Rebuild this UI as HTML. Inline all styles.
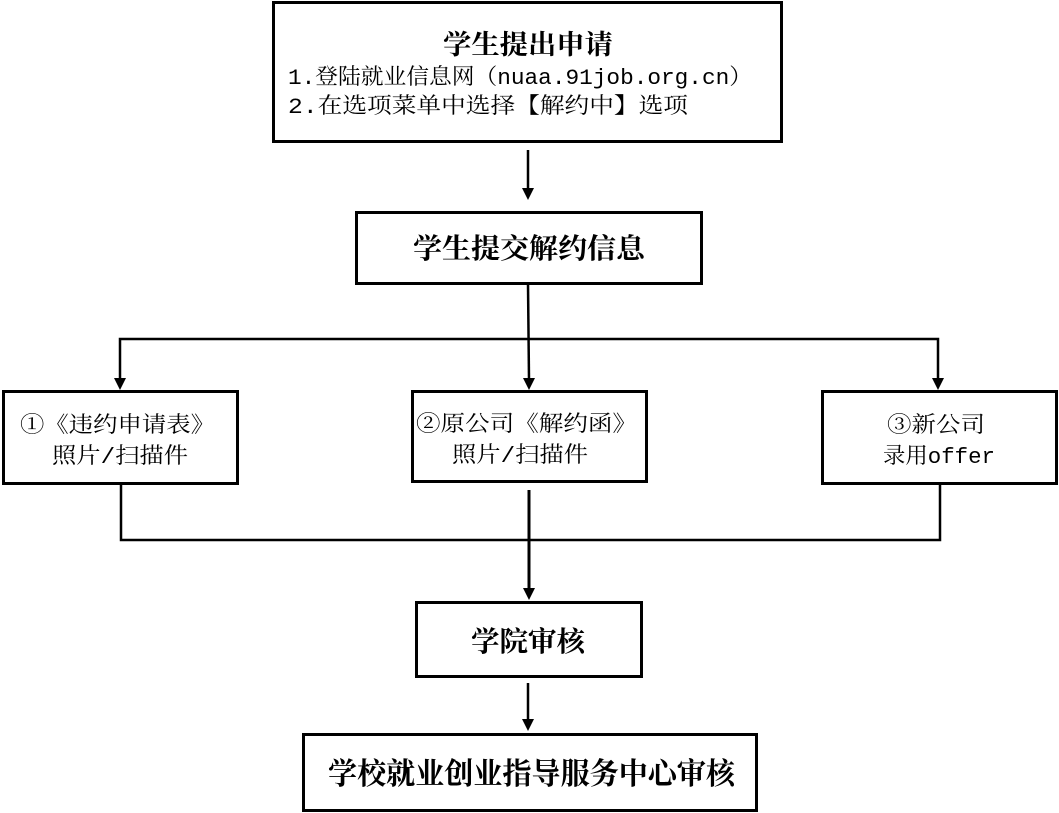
<!DOCTYPE html>
<html><head><meta charset="utf-8"><style>
html,body{margin:0;padding:0;background:#fff;}
svg{display:block;}
text{font-family:"Liberation Mono","Noto Serif CJK SC",serif;fill:#000;}
.b{font-weight:bold;}
</style></head><body>
<svg width="1059" height="813" viewBox="0 0 1059 813" xmlns="http://www.w3.org/2000/svg">
<g fill="none" stroke="#000" stroke-width="3">
<rect x="273.5" y="2.5" width="508" height="139"/>
<rect x="356.5" y="212.5" width="345" height="71"/>
<rect x="3.5" y="391.5" width="234" height="92"/>
<rect x="412.5" y="391.5" width="234" height="90"/>
<rect x="822.5" y="391.5" width="234" height="92"/>
<rect x="416.5" y="602.5" width="225" height="74"/>
<rect x="303.5" y="734.5" width="453" height="76"/>
<line x1="528" y1="150" x2="528" y2="190" stroke-width="2.5"/>
<line x1="528" y1="284" x2="529" y2="380" stroke-width="2.5"/>
<polyline points="120,380 120,339 938,339 938,380" stroke-width="2.5"/>
<polyline points="121,485 121,540 940,540 940,485" stroke-width="2.5"/>
<line x1="529" y1="490" x2="529" y2="590" stroke-width="3"/>
<line x1="528" y1="683" x2="528" y2="720" stroke-width="2.5"/>
</g>
<g fill="#000">
<path d="M522,188 L534,188 L528,200 Z"/>
<path d="M114,378 L126,378 L120,390 Z"/>
<path d="M523,378 L535,378 L529,390 Z"/>
<path d="M932,378 L944,378 L938,390 Z"/>
<path d="M523,588 L535,588 L529,600 Z"/>
<path d="M522,719 L534,719 L528,731 Z"/>
</g>
<text x="443" y="54" class="b" font-size="27" textLength="170" lengthAdjust="spacingAndGlyphs">学生提出申请</text>
<text x="288" y="84" font-size="22" textLength="464" lengthAdjust="spacingAndGlyphs">1.登陆就业信息网（nuaa.91job.org.cn）</text>
<text x="288" y="113" font-size="22" textLength="400" lengthAdjust="spacingAndGlyphs">2.在选项菜单中选择【解约中】选项</text>
<text x="413" y="258" class="b" font-size="28" textLength="232" lengthAdjust="spacingAndGlyphs">学生提交解约信息</text>
<text x="20" y="432" font-size="22" textLength="195" lengthAdjust="spacingAndGlyphs">①《违约申请表》</text>
<text x="52" y="463" font-size="22" textLength="136" lengthAdjust="spacingAndGlyphs">照片/扫描件</text>
<text x="416" y="431" font-size="22" textLength="221" lengthAdjust="spacingAndGlyphs">②原公司《解约函》</text>
<text x="452" y="462" font-size="22" textLength="136" lengthAdjust="spacingAndGlyphs">照片/扫描件</text>
<text x="887" y="432" font-size="22" textLength="98" lengthAdjust="spacingAndGlyphs">③新公司</text>
<text x="883" y="463" font-size="22" textLength="112" lengthAdjust="spacingAndGlyphs">录用offer</text>
<text x="471" y="651" class="b" font-size="28" textLength="114" lengthAdjust="spacingAndGlyphs">学院审核</text>
<text x="328" y="784" class="b" font-size="30" textLength="407" lengthAdjust="spacingAndGlyphs">学校就业创业指导服务中心审核</text>
</svg>
</body></html>
